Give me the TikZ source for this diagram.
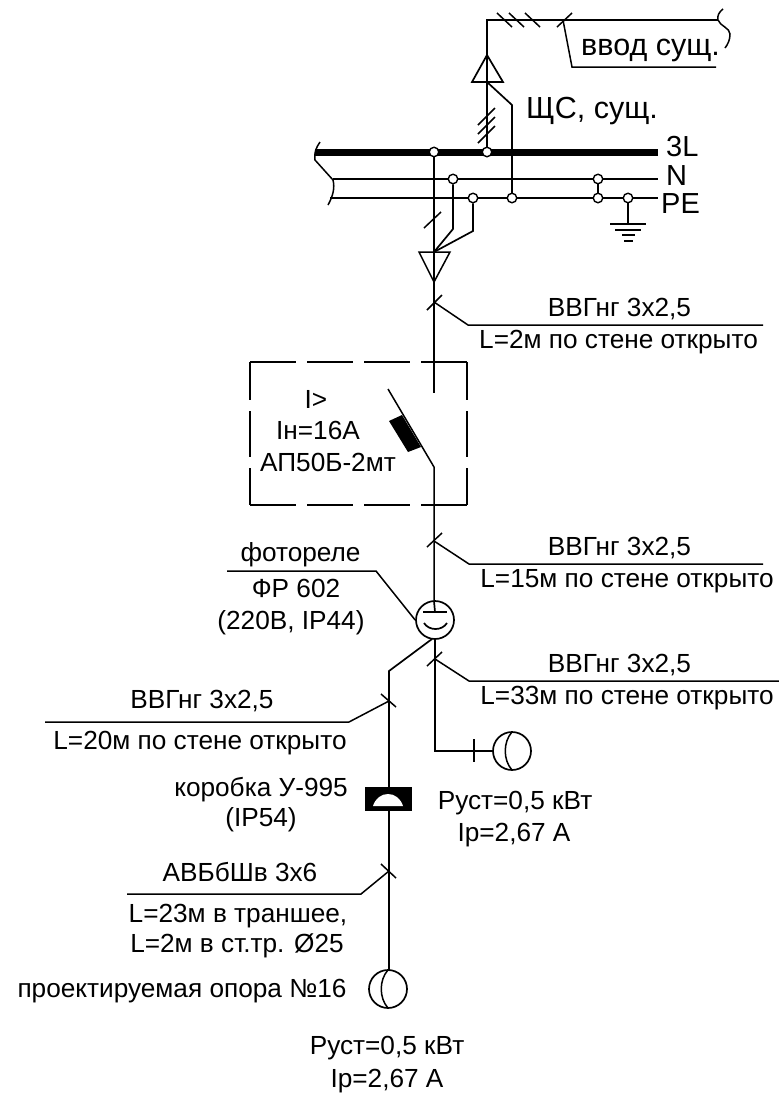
\documentclass[tikz,border=0pt]{standalone}
\usepackage{fontspec}
\setmainfont{Liberation Sans}
\definecolor{schemaBlack}{RGB}{0, 0, 0}
\tikzset{
    wire/.style={line width=1.7pt, schemaBlack},
    thinwire/.style={line width=1.5pt, schemaBlack},
    junction/.style={circle, draw, line width=1.4pt, fill=white, inner sep=0pt, minimum size=9.5pt},
    lamp/.style={circle, draw, line width=1.7pt, inner sep=0pt, minimum size=38pt},
    label/.style={font=\fontsize{26.2}{30}\selectfont, inner sep=0pt, text height=18.9pt, text depth=5.2pt, text=schemaBlack},
    biglabel/.style={label, font=\fontsize{30.5}{34}\selectfont, text height=22pt, text depth=6pt},
    buslabel/.style={font=\fontsize{29}{32}\selectfont, inner sep=0pt, text=schemaBlack}
}
\begin{document}
\begin{tikzpicture}[x=1pt, y=-1pt]
\useasboundingbox (0,0) rectangle (779,1096);
\fill[white] (0,0) rectangle (779,1096);
% Busbars
\draw[line width=7pt] (315,152) -- (658,152);
\draw[thinwire] (333,179) -- (598,179);
\draw[wire, line width=2.4pt] (598,179) -- (658,179);
\draw[thinwire] (330,198) -- (598,198);
\draw[wire, line width=2.4pt] (598,198) -- (658,198);
\draw[wire, line width=2.4pt] (403,179) -- (445,179);
\draw[wire, line width=2.4pt] (434,198) -- (458,198);
\draw[thinwire] (320,142) .. controls (316,148) and (314,152) .. (315,160) -- (333,180) .. controls (335,188) and (333,196) .. (328,205);
\node[buslabel, anchor=west] (labelL) at (666,147) {3L};
\node[buslabel, anchor=west] (labelN) at (666,176) {N};
\node[buslabel, anchor=west] (labelPE) at (661,204) {PE};

% Incoming line
\coordinate (inleader) at (563,20);
\coordinate (incorner) at (487,20);
\draw[wire] (718,20) -- (incorner) -- (487,152);
\foreach \x in {497,509,525} {
    \draw[thinwire] (\x,13) -- (\x+15,27);
}
\draw[thinwire] (557,27) -- (572,13);
\draw[thinwire] (inleader) -- (572,67) -- (716,67);
\draw[thinwire] (723,9) .. controls (719,12) and (717,16) .. (718,20) .. controls (720,26) and (730,28) .. (730,34) .. controls (730,40) and (728,44) .. (725,48);
\node[biglabel, anchor=west] (inlabel) at (581,47) {ввод сущ.};
\draw[wire] (487,55) -- (503,82) -- (472,82) -- cycle;
\draw[wire] (487,82) -- (512,105) -- (512,198);
\foreach \y in {0,9,18} {
    \draw[thinwire] (478,125+\y) -- (495,108+\y);
}
\node[biglabel, anchor=west] (panellabel) at (526,110) {ЩС, сущ.};

% Junctions
\node[junction] (j1) at (434,152) {};
\node[junction] (j2) at (487,152) {};
\node[junction] (j3) at (453,179) {};
\node[junction] (j4) at (473,198) {};
\node[junction] (j5) at (512,198) {};
\node[junction] (j6) at (598,179) {};
\node[junction] (j7) at (598,198) {};
\node[junction] (j8) at (628,198) {};
\draw[thinwire] (j6) -- (j7);

% Earth
\coordinate (earth) at (628,224);
\draw[wire] (j8) -- (earth);
\draw[wire] (610,224) -- (646,224);
\draw[wire] (615,230) -- (641,230);
\draw[wire] (622,235) -- (635,235);
\draw[wire] (624,241) -- (633,241);

% Feeder
\coordinate (tip) at (434,252);
\draw[wire] (j1) -- (434,393);
\draw[thinwire] (424,228) -- (441,212);
\draw[wire] (j3) -- (453,229) -- (tip);
\draw[wire] (j4) -- (473,231) -- (tip);
\draw[thinwire] (419,252) -- (450,252) -- (434,282) -- cycle;
\draw[thinwire] (427,310) -- (442,295);
\draw[thinwire] (434,302) -- (468,325) -- (763,325);
\node[label] (cable1) at (619.5,310) {ВВГнг 3х2,5};
\node[label] (route1) at (618.5,342) {L=2м по стене открыто};

% Breaker
\foreach \y in {362,505} {
    \draw[thinwire, dash pattern=on 46pt off 11pt] (250,\y) -- (467,\y);
}
\foreach \x in {250,467} {
    \draw[thinwire, dash pattern=on 46pt off 11pt, dash phase=8pt] (\x,362) -- (\x,505);
}
\draw[thinwire] (388,389) -- (434,467) -- (434,601);
\fill (389,421) -- (402,415) -- (421,447) -- (408,452) -- cycle;
\node[label] (b1) at (316,402) {I>};
\node[label] (b2) at (318,433) {Iн=16А};
\node[label] (b3) at (328,465) {АП50Б-2мт};

% Photo relay
\node[lamp] (relay) at (435,620) {};
\draw[wire] (434,601) -- (435,612);
\draw[wire] (423,612) -- (447,612);
\draw[wire] (424,623) .. controls (429,631) and (442,631) .. (447,623);
\draw[thinwire] (427,547) -- (442,533);
\draw[thinwire] (434,541) -- (469,564) -- (763,564);
\node[label] (cable2) at (619.5,549) {ВВГнг 3х2,5};
\node[label] (route2) at (627,581) {L=15м по стене открыто};
\draw[thinwire] (relay.west) -- (376,571) -- (227,571);
\node[label] (r1) at (300.5,555) {фотореле};
\node[label] (r2) at (296,591) {ФР 602};
\node[label] (r3) at (291,623) {(220В, IP44)};

% Outgoing to wall lamp
\node[lamp] (lamp1) at (512,751) {};
\draw[wire] (relay.south) -- (435,751) -- (lamp1.west);
\draw[thinwire] (474,739) -- (474,762);
\draw[thinwire] (512,732) .. controls (503,742) and (503,760) .. (512,770);
\draw[thinwire] (427,666) -- (442,652);
\draw[thinwire] (435,659) -- (469,681) -- (779,681);
\node[label] (cable3) at (619.5,666) {ВВГнг 3х2,5};
\node[label] (route3) at (627,698) {L=33м по стене открыто};
\node[label] (p1) at (515,803) {Руст=0,5 кВт};
\node[label] (p2) at (514,835) {Iр=2,67 А};

% Outgoing to pole
\node[lamp] (lamp2) at (388,989) {};
\coordinate (bend) at (389,671);
\draw[wire] (432,639) -- (bend) -- (389,970);
\draw[thinwire] (381,694) -- (396,707);
\draw[thinwire] (389,701) -- (349,722) -- (45,722);
\node[label] (cable4) at (202,702) {ВВГнг 3х2,5};
\node[label] (route4) at (200,743) {L=20м по стене открыто};
\fill (365,787) rectangle (412,811);
\fill[white] (373,806) .. controls (378,790) and (398,790) .. (403,806) -- cycle;
\node[label] (box1) at (261,790) {коробка У-995};
\node[label] (box2) at (261,820) {(IP54)};
\draw[thinwire] (381,864) -- (396,878);
\draw[thinwire] (389,871) -- (361,894) -- (127,894);
\node[label] (cable5) at (240,875) {АВБбШв 3х6};
\node[label] (route5) at (238,916) {L=23м в траншее,};
\node[label] (route6) at (237,946) {L=2м в ст.тр. Ø25};
\draw[thinwire] (388,970) .. controls (379,980) and (379,998) .. (388,1008);
\node[label] (pole) at (182,991) {проектируемая опора №16};
\node[label] (p3) at (387,1048) {Руст=0,5 кВт};
\node[label] (p4) at (387,1081) {Iр=2,67 А};
\end{tikzpicture}
\end{document}
